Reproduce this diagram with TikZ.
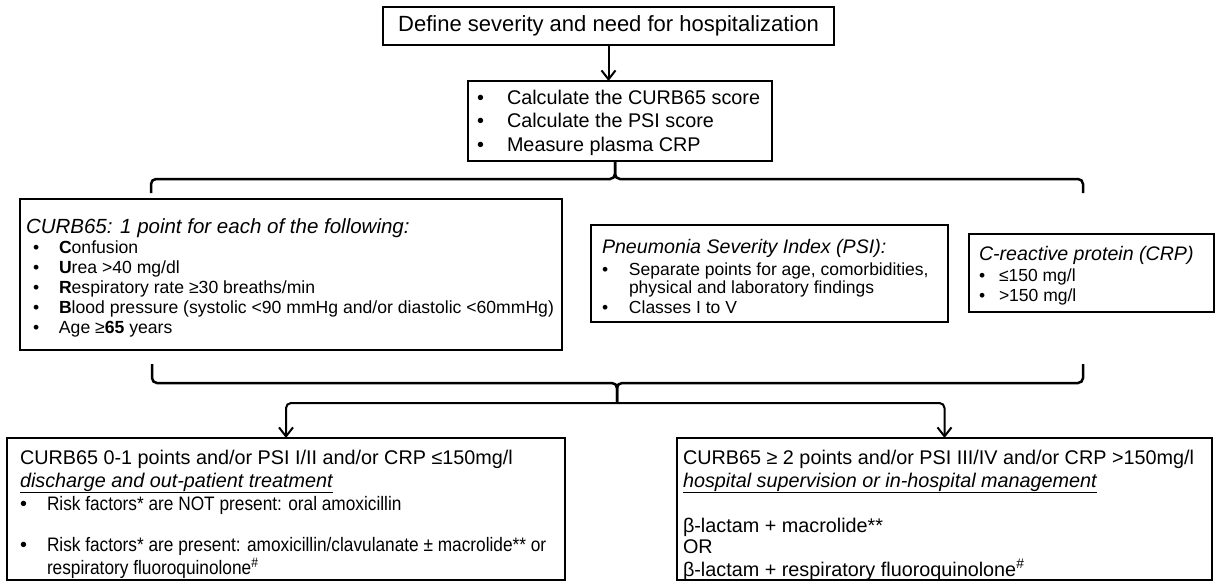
\documentclass[tikz,border=0pt]{standalone}
\usepackage{fontspec}
\setmainfont{Liberation Sans}
\newfontfamily\condfont[FakeStretch=0.885]{Liberation Sans}
\usetikzlibrary{arrows.meta}
\tikzset{
  box/.style={draw, line width=2.5pt, inner sep=0pt, outer sep=0pt, anchor=north west},
  txt/.style={anchor=base west, inner sep=0pt, outer sep=0pt},
  ar/.style={line width=2pt, -{Straight Barb[length=9pt,width=14pt,line width=2pt]}},
  brace/.style={line width=2.5pt, rounded corners=5pt},
}
\newcommand{\bul}[1]{\makebox[#1][l]{•}}
\newcommand{\cnd}{\condfont\fontsize{19.5}{23}\selectfont}
\begin{document}
\begin{tikzpicture}[x=1pt,y=-1pt]
\useasboundingbox (0,0) rectangle (1217,582);
% boxes
\node[box, minimum width=451pt, minimum height=38pt, font=\fontsize{22}{26}\selectfont] (title) at (383,7) {Define severity and need for hospitalization};
\node[box, minimum width=304pt, minimum height=80pt] (calc) at (468,81) {};
\node[box, minimum width=542pt, minimum height=151pt] (curb) at (20,199) {};
\node[box, minimum width=357pt, minimum height=97pt] (psi) at (591,225) {};
\node[box, minimum width=245pt, minimum height=78pt] (crp) at (969,234) {};
\node[box, minimum width=558pt, minimum height=142pt] (ok) at (7,438) {};
\node[box, minimum width=535pt, minimum height=142pt] (hosp) at (677,438) {};
% texts
\node[txt, font=\fontsize{19.8}{23.5}\selectfont] (calctxt) at (477,104) {\begin{tabular}[t]{@{}l@{}l@{}}
\bul{30pt}&Calculate the CURB65 score\\
\bul{30pt}&Calculate the PSI score\\
\bul{30pt}&Measure plasma CRP
\end{tabular}};
\node[txt, font=\fontsize{17.6}{20}\selectfont] (curbtxt) at (26,233) {\begin{tabular}[t]{@{}l@{}l@{}}
\multicolumn{2}{@{}l@{}}{\fontsize{20.5}{20}\selectfont\itshape CURB65: 1 point for each of the following:}\\
\hspace{7pt}\bul{26pt}&\textbf{C}onfusion\\
\hspace{7pt}\bul{26pt}&\textbf{U}rea >40 mg/dl\\
\hspace{7pt}\bul{26pt}&\textbf{R}espiratory rate ≥30 breaths/min\\
\hspace{7pt}\bul{26pt}&\textbf{B}lood pressure (systolic <90 mmHg and/or diastolic <60mmHg)\\
\hspace{7pt}\bul{26pt}&Age ≥\textbf{65} years
\end{tabular}};
\node[txt, font=\fontsize{17.5}{18}\selectfont] (psitxt) at (602,253) {\begin{tabular}[t]{@{}l@{}l@{}}
\multicolumn{2}{@{}l@{}}{\fontsize{19.6}{18}\selectfont\itshape Pneumonia Severity Index (PSI):}\\[4pt]
\bul{27pt}&Separate points for age, comorbidities,\\
&physical and laboratory findings\\[2pt]
\bul{27pt}&Classes I to V
\end{tabular}};
\node[txt, font=\fontsize{17.5}{18}\selectfont] (crptxt) at (979,260) {\begin{tabular}[t]{@{}l@{}l@{}}
\multicolumn{2}{@{}l@{}}{\fontsize{19.6}{18}\selectfont\itshape C-reactive protein (CRP)}\\[3pt]
\bul{20pt}&≤150 mg/l\\[2pt]
\bul{20pt}&>150 mg/l
\end{tabular}};
\node[txt, font=\fontsize{19.8}{23}\selectfont] (oktxt) at (20,464) {\begin{tabular}[t]{@{}l@{}l@{}}
\multicolumn{2}{@{}l@{}}{CURB65 0-1 points and/or PSI I/II and/or CRP ≤150mg/l}\\
\multicolumn{2}{@{}l@{}}{\underline{\itshape discharge and out-patient treatment}}\\
\bul{27pt}&\cnd Risk factors* are NOT present: oral amoxicillin\\[18pt]
\bul{27pt}&\cnd Risk factors* are present: amoxicillin/clavulanate ± macrolide** or\\
&\cnd respiratory fluoroquinolone\textsuperscript{\#}
\end{tabular}};
\node[txt, font=\fontsize{19.8}{21}\selectfont] (hosptxt) at (683,464) {\begin{tabular}[t]{@{}l@{}}
CURB65 ≥ 2 points and/or PSI III/IV and/or CRP >150mg/l\\[2pt]
\underline{\itshape hospital supervision or in-hospital management}\\[24pt]
β-lactam + macrolide**\\
OR\\
β-lactam + respiratory fluoroquinolone\textsuperscript{\#}
\end{tabular}};
% top arrow
\draw[ar] (title.south) -- (title.south |- calc.north);
% top brace
\coordinate (tbm) at (615,179);
\coordinate (tbl) at (151,193);
\coordinate (tbr) at (1083,193);
\draw[brace] (tbl) |- (tbm) -- (tbm |- calc.south);
\draw[brace] (tbr) |- (tbm) -- (tbm |- calc.south);
% bottom brace
\coordinate (bbm) at (617,383);
\coordinate (bbt) at (617,403);
\coordinate (bbl) at (152,364);
\coordinate (bbr) at (1083,364);
\draw[brace] (bbl) |- (bbm) -- (bbt);
\draw[brace] (bbr) |- (bbm) -- (bbt);
% connectors to outcome boxes
\draw[ar, rounded corners=5pt] (bbt) -| (ok.north);
\draw[ar, rounded corners=5pt] (bbt) -| (hosp.north);
\end{tikzpicture}
\end{document}
